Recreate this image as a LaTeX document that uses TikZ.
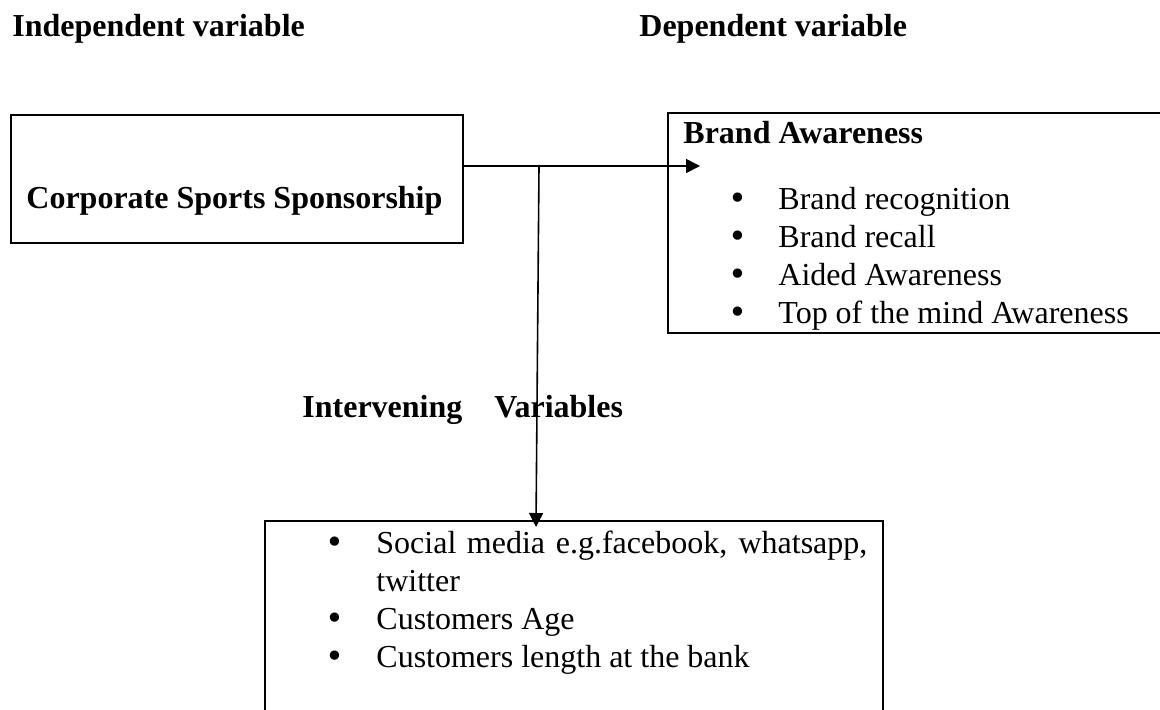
\documentclass[tikz,border=0pt]{standalone}
\usepackage{fontspec}
\setmainfont{Liberation Serif}
\newfontfamily\dotfont{DejaVu Sans}
\usetikzlibrary{positioning,fit,arrows.meta}

\newcommand{\bigdot}{{\dotfont\symbol{"2022}}}

\begin{document}
\begin{tikzpicture}[x=0.5pt,y=-0.5pt,
        box/.style={draw,line width=1.2pt,inner sep=0pt},
        txt/.style={anchor=base west,inner sep=0pt,font=\fontsize{16}{19}\selectfont},
        hdr/.style={txt,font=\fontsize{16}{19}\selectfont\bfseries},
        link/.style={line width=0.8pt,-{Triangle[length=7pt,width=7pt]}}]
    \useasboundingbox (0,0) rectangle (1160,709);
    % headings
    \node[hdr] (indep) at (12,36) {Independent variable};
    \node[hdr] (dep) at (639,36) {Dependent variable};
    \node[hdr] (intlbl) at (302,417) {Intervening\hspace*{16pt}Variables};
    % boxes
    \node[box,fit={(11,115) (463,243)}] (sponsor) {};
    \node[hdr] (sponsorlbl) at (26,208) {Corporate Sports Sponsorship};
    \node[box,fit={(668,113) (1180,333)}] (aware) {};
    \node[hdr] (awarelbl) at (683,143) {Brand Awareness};
    \node[txt] (awarelist) at (728,209) {\begin{tabular}[t]{@{}l@{}l@{}}
        \makebox[25pt][l]{\bigdot} & Brand recognition\\
        \makebox[25pt][l]{\bigdot} & Brand recall\\
        \makebox[25pt][l]{\bigdot} & Aided Awareness\\
        \makebox[25pt][l]{\bigdot} & Top of the mind Awareness
    \end{tabular}};
    \node[box,fit={(265,521) (883,730)}] (interv) {};
    \node[txt] (intlist) at (325,553) {\begin{tabular}[t]{@{}l@{}l@{}}
        \makebox[25.5pt][l]{\bigdot} & \makebox[245.5pt][s]{Social media e.g.facebook, whatsapp,}\\
        & twitter\\
        \makebox[25.5pt][l]{\bigdot} & Customers Age\\
        \makebox[25.5pt][l]{\bigdot} & Customers length at the bank
    \end{tabular}};
    % connectors
    \coordinate (split) at (539,166);
    \coordinate (awarein) at (700,166);
    \coordinate (intin) at (536,527);
    \draw[link] (sponsor.east |- split) -- (awarein);
    \draw[link] (split) -- (intin);
\end{tikzpicture}
\end{document}
